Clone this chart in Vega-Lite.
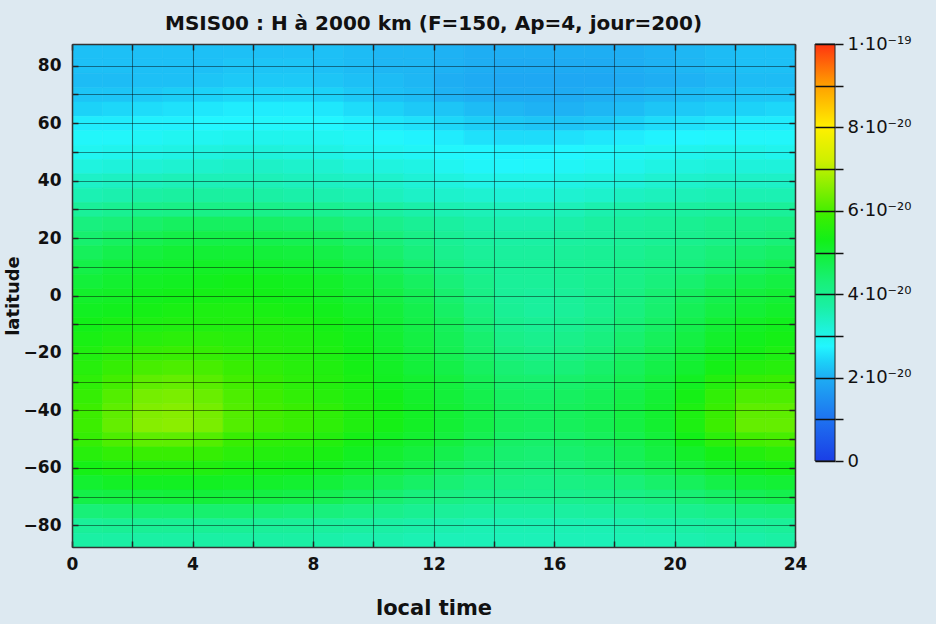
{
"$schema": "https://vega.github.io/schema/vega-lite/v6.json",
"background": "#dde9f1",
"padding": {"left": 4, "top": 14, "right": 24, "bottom": 6},
"config": {"view": {"stroke": null}, "font": "DejaVu Sans", "axis": {"labelFont": "DejaVu Sans", "titleFont": "DejaVu Sans", "labelColor": "#111", "titleColor": "#111"}},
"datasets": {"grid": [
{"lt":0,"lat":82.5,"v":2.2},{"lt":1,"lat":82.5,"v":2.2},{"lt":2,"lat":82.5,"v":2.2},{"lt":3,"lat":82.5,"v":2.2},{"lt":4,"lat":82.5,"v":2.2},{"lt":5,"lat":82.5,"v":2.2},{"lt":6,"lat":82.5,"v":2.2},{"lt":7,"lat":82.5,"v":2.2},{"lt":8,"lat":82.5,"v":2.2},{"lt":9,"lat":82.5,"v":2.15},{"lt":10,"lat":82.5,"v":2.1},{"lt":11,"lat":82.5,"v":2.1},{"lt":12,"lat":82.5,"v":2.05},{"lt":13,"lat":82.5,"v":2.0},{"lt":14,"lat":82.5,"v":2.0},{"lt":15,"lat":82.5,"v":2.0},{"lt":16,"lat":82.5,"v":2.0},{"lt":17,"lat":82.5,"v":2.0},{"lt":18,"lat":82.5,"v":2.0},{"lt":19,"lat":82.5,"v":2.05},{"lt":20,"lat":82.5,"v":2.1},{"lt":21,"lat":82.5,"v":2.15},{"lt":22,"lat":82.5,"v":2.2},{"lt":23,"lat":82.5,"v":2.2},
{"lt":0,"lat":77.5,"v":2.2},{"lt":1,"lat":77.5,"v":2.2},{"lt":2,"lat":77.5,"v":2.2},{"lt":3,"lat":77.5,"v":2.2},{"lt":4,"lat":77.5,"v":2.2},{"lt":5,"lat":77.5,"v":2.25},{"lt":6,"lat":77.5,"v":2.25},{"lt":7,"lat":77.5,"v":2.25},{"lt":8,"lat":77.5,"v":2.2},{"lt":9,"lat":77.5,"v":2.15},{"lt":10,"lat":77.5,"v":2.1},{"lt":11,"lat":77.5,"v":2.1},{"lt":12,"lat":77.5,"v":2.05},{"lt":13,"lat":77.5,"v":2.0},{"lt":14,"lat":77.5,"v":1.95},{"lt":15,"lat":77.5,"v":1.95},{"lt":16,"lat":77.5,"v":1.95},{"lt":17,"lat":77.5,"v":1.95},{"lt":18,"lat":77.5,"v":2.0},{"lt":19,"lat":77.5,"v":2.05},{"lt":20,"lat":77.5,"v":2.1},{"lt":21,"lat":77.5,"v":2.15},{"lt":22,"lat":77.5,"v":2.2},{"lt":23,"lat":77.5,"v":2.2},
{"lt":0,"lat":72.5,"v":2.15},{"lt":1,"lat":72.5,"v":2.15},{"lt":2,"lat":72.5,"v":2.2},{"lt":3,"lat":72.5,"v":2.2},{"lt":4,"lat":72.5,"v":2.25},{"lt":5,"lat":72.5,"v":2.3},{"lt":6,"lat":72.5,"v":2.3},{"lt":7,"lat":72.5,"v":2.3},{"lt":8,"lat":72.5,"v":2.25},{"lt":9,"lat":72.5,"v":2.2},{"lt":10,"lat":72.5,"v":2.15},{"lt":11,"lat":72.5,"v":2.1},{"lt":12,"lat":72.5,"v":2.0},{"lt":13,"lat":72.5,"v":1.95},{"lt":14,"lat":72.5,"v":1.9},{"lt":15,"lat":72.5,"v":1.9},{"lt":16,"lat":72.5,"v":1.9},{"lt":17,"lat":72.5,"v":1.9},{"lt":18,"lat":72.5,"v":1.95},{"lt":19,"lat":72.5,"v":2.0},{"lt":20,"lat":72.5,"v":2.05},{"lt":21,"lat":72.5,"v":2.1},{"lt":22,"lat":72.5,"v":2.15},{"lt":23,"lat":72.5,"v":2.15},
{"lt":0,"lat":67.5,"v":2.25},{"lt":1,"lat":67.5,"v":2.25},{"lt":2,"lat":67.5,"v":2.3},{"lt":3,"lat":67.5,"v":2.35},{"lt":4,"lat":67.5,"v":2.4},{"lt":5,"lat":67.5,"v":2.45},{"lt":6,"lat":67.5,"v":2.45},{"lt":7,"lat":67.5,"v":2.45},{"lt":8,"lat":67.5,"v":2.4},{"lt":9,"lat":67.5,"v":2.3},{"lt":10,"lat":67.5,"v":2.2},{"lt":11,"lat":67.5,"v":2.15},{"lt":12,"lat":67.5,"v":2.05},{"lt":13,"lat":67.5,"v":2.0},{"lt":14,"lat":67.5,"v":1.95},{"lt":15,"lat":67.5,"v":1.95},{"lt":16,"lat":67.5,"v":1.95},{"lt":17,"lat":67.5,"v":2.0},{"lt":18,"lat":67.5,"v":2.05},{"lt":19,"lat":67.5,"v":2.1},{"lt":20,"lat":67.5,"v":2.15},{"lt":21,"lat":67.5,"v":2.2},{"lt":22,"lat":67.5,"v":2.25},{"lt":23,"lat":67.5,"v":2.25},
{"lt":0,"lat":62.5,"v":2.4},{"lt":1,"lat":62.5,"v":2.45},{"lt":2,"lat":62.5,"v":2.5},{"lt":3,"lat":62.5,"v":2.55},{"lt":4,"lat":62.5,"v":2.6},{"lt":5,"lat":62.5,"v":2.65},{"lt":6,"lat":62.5,"v":2.65},{"lt":7,"lat":62.5,"v":2.65},{"lt":8,"lat":62.5,"v":2.6},{"lt":9,"lat":62.5,"v":2.5},{"lt":10,"lat":62.5,"v":2.4},{"lt":11,"lat":62.5,"v":2.3},{"lt":12,"lat":62.5,"v":2.25},{"lt":13,"lat":62.5,"v":2.15},{"lt":14,"lat":62.5,"v":2.1},{"lt":15,"lat":62.5,"v":2.05},{"lt":16,"lat":62.5,"v":2.05},{"lt":17,"lat":62.5,"v":2.1},{"lt":18,"lat":62.5,"v":2.15},{"lt":19,"lat":62.5,"v":2.25},{"lt":20,"lat":62.5,"v":2.3},{"lt":21,"lat":62.5,"v":2.35},{"lt":22,"lat":62.5,"v":2.4},{"lt":23,"lat":62.5,"v":2.45},
{"lt":0,"lat":57.5,"v":2.65},{"lt":1,"lat":57.5,"v":2.65},{"lt":2,"lat":57.5,"v":2.7},{"lt":3,"lat":57.5,"v":2.7},{"lt":4,"lat":57.5,"v":2.75},{"lt":5,"lat":57.5,"v":2.75},{"lt":6,"lat":57.5,"v":2.78},{"lt":7,"lat":57.5,"v":2.78},{"lt":8,"lat":57.5,"v":2.75},{"lt":9,"lat":57.5,"v":2.68},{"lt":10,"lat":57.5,"v":2.6},{"lt":11,"lat":57.5,"v":2.55},{"lt":12,"lat":57.5,"v":2.45},{"lt":13,"lat":57.5,"v":2.35},{"lt":14,"lat":57.5,"v":2.3},{"lt":15,"lat":57.5,"v":2.25},{"lt":16,"lat":57.5,"v":2.25},{"lt":17,"lat":57.5,"v":2.3},{"lt":18,"lat":57.5,"v":2.4},{"lt":19,"lat":57.5,"v":2.5},{"lt":20,"lat":57.5,"v":2.55},{"lt":21,"lat":57.5,"v":2.6},{"lt":22,"lat":57.5,"v":2.65},{"lt":23,"lat":57.5,"v":2.65},
{"lt":0,"lat":52.5,"v":2.8},{"lt":1,"lat":52.5,"v":2.8},{"lt":2,"lat":52.5,"v":2.85},{"lt":3,"lat":52.5,"v":2.9},{"lt":4,"lat":52.5,"v":2.9},{"lt":5,"lat":52.5,"v":2.95},{"lt":6,"lat":52.5,"v":2.95},{"lt":7,"lat":52.5,"v":2.95},{"lt":8,"lat":52.5,"v":2.9},{"lt":9,"lat":52.5,"v":2.85},{"lt":10,"lat":52.5,"v":2.78},{"lt":11,"lat":52.5,"v":2.72},{"lt":12,"lat":52.5,"v":2.65},{"lt":13,"lat":52.5,"v":2.55},{"lt":14,"lat":52.5,"v":2.5},{"lt":15,"lat":52.5,"v":2.5},{"lt":16,"lat":52.5,"v":2.55},{"lt":17,"lat":52.5,"v":2.6},{"lt":18,"lat":52.5,"v":2.65},{"lt":19,"lat":52.5,"v":2.72},{"lt":20,"lat":52.5,"v":2.75},{"lt":21,"lat":52.5,"v":2.78},{"lt":22,"lat":52.5,"v":2.8},{"lt":23,"lat":52.5,"v":2.8},
{"lt":0,"lat":47.5,"v":2.9},{"lt":1,"lat":47.5,"v":2.95},{"lt":2,"lat":47.5,"v":3.0},{"lt":3,"lat":47.5,"v":3.05},{"lt":4,"lat":47.5,"v":3.1},{"lt":5,"lat":47.5,"v":3.15},{"lt":6,"lat":47.5,"v":3.15},{"lt":7,"lat":47.5,"v":3.1},{"lt":8,"lat":47.5,"v":3.05},{"lt":9,"lat":47.5,"v":2.95},{"lt":10,"lat":47.5,"v":2.9},{"lt":11,"lat":47.5,"v":2.85},{"lt":12,"lat":47.5,"v":2.78},{"lt":13,"lat":47.5,"v":2.75},{"lt":14,"lat":47.5,"v":2.72},{"lt":15,"lat":47.5,"v":2.72},{"lt":16,"lat":47.5,"v":2.75},{"lt":17,"lat":47.5,"v":2.8},{"lt":18,"lat":47.5,"v":2.85},{"lt":19,"lat":47.5,"v":2.9},{"lt":20,"lat":47.5,"v":2.95},{"lt":21,"lat":47.5,"v":3.0},{"lt":22,"lat":47.5,"v":3.0},{"lt":23,"lat":47.5,"v":2.95},
{"lt":0,"lat":42.5,"v":3.1},{"lt":1,"lat":42.5,"v":3.15},{"lt":2,"lat":42.5,"v":3.2},{"lt":3,"lat":42.5,"v":3.25},{"lt":4,"lat":42.5,"v":3.3},{"lt":5,"lat":42.5,"v":3.35},{"lt":6,"lat":42.5,"v":3.35},{"lt":7,"lat":42.5,"v":3.3},{"lt":8,"lat":42.5,"v":3.25},{"lt":9,"lat":42.5,"v":3.15},{"lt":10,"lat":42.5,"v":3.1},{"lt":11,"lat":42.5,"v":3.05},{"lt":12,"lat":42.5,"v":2.9},{"lt":13,"lat":42.5,"v":2.82},{"lt":14,"lat":42.5,"v":2.78},{"lt":15,"lat":42.5,"v":2.8},{"lt":16,"lat":42.5,"v":2.85},{"lt":17,"lat":42.5,"v":2.9},{"lt":18,"lat":42.5,"v":2.95},{"lt":19,"lat":42.5,"v":3.05},{"lt":20,"lat":42.5,"v":3.1},{"lt":21,"lat":42.5,"v":3.15},{"lt":22,"lat":42.5,"v":3.15},{"lt":23,"lat":42.5,"v":3.15},
{"lt":0,"lat":37.5,"v":3.35},{"lt":1,"lat":37.5,"v":3.4},{"lt":2,"lat":37.5,"v":3.45},{"lt":3,"lat":37.5,"v":3.5},{"lt":4,"lat":37.5,"v":3.5},{"lt":5,"lat":37.5,"v":3.5},{"lt":6,"lat":37.5,"v":3.5},{"lt":7,"lat":37.5,"v":3.45},{"lt":8,"lat":37.5,"v":3.4},{"lt":9,"lat":37.5,"v":3.35},{"lt":10,"lat":37.5,"v":3.3},{"lt":11,"lat":37.5,"v":3.2},{"lt":12,"lat":37.5,"v":3.1},{"lt":13,"lat":37.5,"v":3.0},{"lt":14,"lat":37.5,"v":3.0},{"lt":15,"lat":37.5,"v":3.0},{"lt":16,"lat":37.5,"v":3.05},{"lt":17,"lat":37.5,"v":3.1},{"lt":18,"lat":37.5,"v":3.15},{"lt":19,"lat":37.5,"v":3.25},{"lt":20,"lat":37.5,"v":3.3},{"lt":21,"lat":37.5,"v":3.35},{"lt":22,"lat":37.5,"v":3.35},{"lt":23,"lat":37.5,"v":3.35},
{"lt":0,"lat":32.5,"v":3.55},{"lt":1,"lat":32.5,"v":3.6},{"lt":2,"lat":32.5,"v":3.7},{"lt":3,"lat":32.5,"v":3.75},{"lt":4,"lat":32.5,"v":3.75},{"lt":5,"lat":32.5,"v":3.75},{"lt":6,"lat":32.5,"v":3.7},{"lt":7,"lat":32.5,"v":3.65},{"lt":8,"lat":32.5,"v":3.6},{"lt":9,"lat":32.5,"v":3.55},{"lt":10,"lat":32.5,"v":3.45},{"lt":11,"lat":32.5,"v":3.35},{"lt":12,"lat":32.5,"v":3.3},{"lt":13,"lat":32.5,"v":3.25},{"lt":14,"lat":32.5,"v":3.2},{"lt":15,"lat":32.5,"v":3.2},{"lt":16,"lat":32.5,"v":3.25},{"lt":17,"lat":32.5,"v":3.3},{"lt":18,"lat":32.5,"v":3.4},{"lt":19,"lat":32.5,"v":3.45},{"lt":20,"lat":32.5,"v":3.5},{"lt":21,"lat":32.5,"v":3.55},{"lt":22,"lat":32.5,"v":3.55},{"lt":23,"lat":32.5,"v":3.55},
{"lt":0,"lat":27.5,"v":3.85},{"lt":1,"lat":27.5,"v":3.95},{"lt":2,"lat":27.5,"v":4.05},{"lt":3,"lat":27.5,"v":4.1},{"lt":4,"lat":27.5,"v":4.1},{"lt":5,"lat":27.5,"v":4.1},{"lt":6,"lat":27.5,"v":4.05},{"lt":7,"lat":27.5,"v":4.0},{"lt":8,"lat":27.5,"v":3.95},{"lt":9,"lat":27.5,"v":3.85},{"lt":10,"lat":27.5,"v":3.75},{"lt":11,"lat":27.5,"v":3.65},{"lt":12,"lat":27.5,"v":3.55},{"lt":13,"lat":27.5,"v":3.5},{"lt":14,"lat":27.5,"v":3.45},{"lt":15,"lat":27.5,"v":3.45},{"lt":16,"lat":27.5,"v":3.5},{"lt":17,"lat":27.5,"v":3.6},{"lt":18,"lat":27.5,"v":3.65},{"lt":19,"lat":27.5,"v":3.7},{"lt":20,"lat":27.5,"v":3.75},{"lt":21,"lat":27.5,"v":3.8},{"lt":22,"lat":27.5,"v":3.85},{"lt":23,"lat":27.5,"v":3.85},
{"lt":0,"lat":22.5,"v":4.2},{"lt":1,"lat":22.5,"v":4.3},{"lt":2,"lat":22.5,"v":4.45},{"lt":3,"lat":22.5,"v":4.55},{"lt":4,"lat":22.5,"v":4.55},{"lt":5,"lat":22.5,"v":4.55},{"lt":6,"lat":22.5,"v":4.5},{"lt":7,"lat":22.5,"v":4.45},{"lt":8,"lat":22.5,"v":4.35},{"lt":9,"lat":22.5,"v":4.2},{"lt":10,"lat":22.5,"v":4.05},{"lt":11,"lat":22.5,"v":3.9},{"lt":12,"lat":22.5,"v":3.75},{"lt":13,"lat":22.5,"v":3.65},{"lt":14,"lat":22.5,"v":3.6},{"lt":15,"lat":22.5,"v":3.6},{"lt":16,"lat":22.5,"v":3.65},{"lt":17,"lat":22.5,"v":3.75},{"lt":18,"lat":22.5,"v":3.8},{"lt":19,"lat":22.5,"v":3.85},{"lt":20,"lat":22.5,"v":3.95},{"lt":21,"lat":22.5,"v":4.05},{"lt":22,"lat":22.5,"v":4.1},{"lt":23,"lat":22.5,"v":4.15},
{"lt":0,"lat":17.5,"v":4.4},{"lt":1,"lat":17.5,"v":4.55},{"lt":2,"lat":17.5,"v":4.7},{"lt":3,"lat":17.5,"v":4.8},{"lt":4,"lat":17.5,"v":4.8},{"lt":5,"lat":17.5,"v":4.8},{"lt":6,"lat":17.5,"v":4.75},{"lt":7,"lat":17.5,"v":4.7},{"lt":8,"lat":17.5,"v":4.6},{"lt":9,"lat":17.5,"v":4.45},{"lt":10,"lat":17.5,"v":4.3},{"lt":11,"lat":17.5,"v":4.1},{"lt":12,"lat":17.5,"v":3.9},{"lt":13,"lat":17.5,"v":3.75},{"lt":14,"lat":17.5,"v":3.7},{"lt":15,"lat":17.5,"v":3.7},{"lt":16,"lat":17.5,"v":3.75},{"lt":17,"lat":17.5,"v":3.8},{"lt":18,"lat":17.5,"v":3.85},{"lt":19,"lat":17.5,"v":3.9},{"lt":20,"lat":17.5,"v":4.0},{"lt":21,"lat":17.5,"v":4.1},{"lt":22,"lat":17.5,"v":4.2},{"lt":23,"lat":17.5,"v":4.3},
{"lt":0,"lat":12.5,"v":4.6},{"lt":1,"lat":12.5,"v":4.75},{"lt":2,"lat":12.5,"v":4.9},{"lt":3,"lat":12.5,"v":5.0},{"lt":4,"lat":12.5,"v":5.0},{"lt":5,"lat":12.5,"v":5.0},{"lt":6,"lat":12.5,"v":4.95},{"lt":7,"lat":12.5,"v":4.9},{"lt":8,"lat":12.5,"v":4.8},{"lt":9,"lat":12.5,"v":4.65},{"lt":10,"lat":12.5,"v":4.45},{"lt":11,"lat":12.5,"v":4.25},{"lt":12,"lat":12.5,"v":4.0},{"lt":13,"lat":12.5,"v":3.85},{"lt":14,"lat":12.5,"v":3.8},{"lt":15,"lat":12.5,"v":3.8},{"lt":16,"lat":12.5,"v":3.85},{"lt":17,"lat":12.5,"v":3.9},{"lt":18,"lat":12.5,"v":3.95},{"lt":19,"lat":12.5,"v":4.05},{"lt":20,"lat":12.5,"v":4.15},{"lt":21,"lat":12.5,"v":4.3},{"lt":22,"lat":12.5,"v":4.4},{"lt":23,"lat":12.5,"v":4.5},
{"lt":0,"lat":7.5,"v":4.8},{"lt":1,"lat":7.5,"v":4.95},{"lt":2,"lat":7.5,"v":5.05},{"lt":3,"lat":7.5,"v":5.1},{"lt":4,"lat":7.5,"v":5.15},{"lt":5,"lat":7.5,"v":5.15},{"lt":6,"lat":7.5,"v":5.1},{"lt":7,"lat":7.5,"v":5.05},{"lt":8,"lat":7.5,"v":4.95},{"lt":9,"lat":7.5,"v":4.8},{"lt":10,"lat":7.5,"v":4.6},{"lt":11,"lat":7.5,"v":4.4},{"lt":12,"lat":7.5,"v":4.15},{"lt":13,"lat":7.5,"v":3.95},{"lt":14,"lat":7.5,"v":3.85},{"lt":15,"lat":7.5,"v":3.85},{"lt":16,"lat":7.5,"v":3.9},{"lt":17,"lat":7.5,"v":3.95},{"lt":18,"lat":7.5,"v":4.05},{"lt":19,"lat":7.5,"v":4.15},{"lt":20,"lat":7.5,"v":4.25},{"lt":21,"lat":7.5,"v":4.4},{"lt":22,"lat":7.5,"v":4.55},{"lt":23,"lat":7.5,"v":4.7},
{"lt":0,"lat":2.5,"v":4.95},{"lt":1,"lat":2.5,"v":5.05},{"lt":2,"lat":2.5,"v":5.15},{"lt":3,"lat":2.5,"v":5.2},{"lt":4,"lat":2.5,"v":5.25},{"lt":5,"lat":2.5,"v":5.3},{"lt":6,"lat":2.5,"v":5.25},{"lt":7,"lat":2.5,"v":5.2},{"lt":8,"lat":2.5,"v":5.1},{"lt":9,"lat":2.5,"v":4.95},{"lt":10,"lat":2.5,"v":4.75},{"lt":11,"lat":2.5,"v":4.55},{"lt":12,"lat":2.5,"v":4.3},{"lt":13,"lat":2.5,"v":4.05},{"lt":14,"lat":2.5,"v":3.85},{"lt":15,"lat":2.5,"v":3.85},{"lt":16,"lat":2.5,"v":3.9},{"lt":17,"lat":2.5,"v":4.0},{"lt":18,"lat":2.5,"v":4.1},{"lt":19,"lat":2.5,"v":4.25},{"lt":20,"lat":2.5,"v":4.4},{"lt":21,"lat":2.5,"v":4.6},{"lt":22,"lat":2.5,"v":4.75},{"lt":23,"lat":2.5,"v":4.85},
{"lt":0,"lat":-2.5,"v":5.1},{"lt":1,"lat":-2.5,"v":5.15},{"lt":2,"lat":-2.5,"v":5.25},{"lt":3,"lat":-2.5,"v":5.3},{"lt":4,"lat":-2.5,"v":5.35},{"lt":5,"lat":-2.5,"v":5.35},{"lt":6,"lat":-2.5,"v":5.3},{"lt":7,"lat":-2.5,"v":5.25},{"lt":8,"lat":-2.5,"v":5.15},{"lt":9,"lat":-2.5,"v":5.0},{"lt":10,"lat":-2.5,"v":4.85},{"lt":11,"lat":-2.5,"v":4.65},{"lt":12,"lat":-2.5,"v":4.4},{"lt":13,"lat":-2.5,"v":4.1},{"lt":14,"lat":-2.5,"v":3.85},{"lt":15,"lat":-2.5,"v":3.8},{"lt":16,"lat":-2.5,"v":3.85},{"lt":17,"lat":-2.5,"v":4.0},{"lt":18,"lat":-2.5,"v":4.15},{"lt":19,"lat":-2.5,"v":4.35},{"lt":20,"lat":-2.5,"v":4.55},{"lt":21,"lat":-2.5,"v":4.75},{"lt":22,"lat":-2.5,"v":4.9},{"lt":23,"lat":-2.5,"v":5.0},
{"lt":0,"lat":-7.5,"v":5.2},{"lt":1,"lat":-7.5,"v":5.25},{"lt":2,"lat":-7.5,"v":5.35},{"lt":3,"lat":-7.5,"v":5.4},{"lt":4,"lat":-7.5,"v":5.45},{"lt":5,"lat":-7.5,"v":5.45},{"lt":6,"lat":-7.5,"v":5.4},{"lt":7,"lat":-7.5,"v":5.35},{"lt":8,"lat":-7.5,"v":5.25},{"lt":9,"lat":-7.5,"v":5.1},{"lt":10,"lat":-7.5,"v":4.95},{"lt":11,"lat":-7.5,"v":4.75},{"lt":12,"lat":-7.5,"v":4.5},{"lt":13,"lat":-7.5,"v":4.2},{"lt":14,"lat":-7.5,"v":3.9},{"lt":15,"lat":-7.5,"v":3.8},{"lt":16,"lat":-7.5,"v":3.85},{"lt":17,"lat":-7.5,"v":4.0},{"lt":18,"lat":-7.5,"v":4.2},{"lt":19,"lat":-7.5,"v":4.4},{"lt":20,"lat":-7.5,"v":4.65},{"lt":21,"lat":-7.5,"v":4.85},{"lt":22,"lat":-7.5,"v":5.0},{"lt":23,"lat":-7.5,"v":5.1},
{"lt":0,"lat":-12.5,"v":5.3},{"lt":1,"lat":-12.5,"v":5.4},{"lt":2,"lat":-12.5,"v":5.45},{"lt":3,"lat":-12.5,"v":5.5},{"lt":4,"lat":-12.5,"v":5.5},{"lt":5,"lat":-12.5,"v":5.5},{"lt":6,"lat":-12.5,"v":5.5},{"lt":7,"lat":-12.5,"v":5.45},{"lt":8,"lat":-12.5,"v":5.35},{"lt":9,"lat":-12.5,"v":5.2},{"lt":10,"lat":-12.5,"v":5.0},{"lt":11,"lat":-12.5,"v":4.8},{"lt":12,"lat":-12.5,"v":4.6},{"lt":13,"lat":-12.5,"v":4.3},{"lt":14,"lat":-12.5,"v":4.0},{"lt":15,"lat":-12.5,"v":3.9},{"lt":16,"lat":-12.5,"v":3.95},{"lt":17,"lat":-12.5,"v":4.1},{"lt":18,"lat":-12.5,"v":4.3},{"lt":19,"lat":-12.5,"v":4.5},{"lt":20,"lat":-12.5,"v":4.75},{"lt":21,"lat":-12.5,"v":5.0},{"lt":22,"lat":-12.5,"v":5.15},{"lt":23,"lat":-12.5,"v":5.25},
{"lt":0,"lat":-17.5,"v":5.4},{"lt":1,"lat":-17.5,"v":5.5},{"lt":2,"lat":-17.5,"v":5.6},{"lt":3,"lat":-17.5,"v":5.65},{"lt":4,"lat":-17.5,"v":5.65},{"lt":5,"lat":-17.5,"v":5.6},{"lt":6,"lat":-17.5,"v":5.55},{"lt":7,"lat":-17.5,"v":5.5},{"lt":8,"lat":-17.5,"v":5.4},{"lt":9,"lat":-17.5,"v":5.25},{"lt":10,"lat":-17.5,"v":5.05},{"lt":11,"lat":-17.5,"v":4.85},{"lt":12,"lat":-17.5,"v":4.65},{"lt":13,"lat":-17.5,"v":4.4},{"lt":14,"lat":-17.5,"v":4.1},{"lt":15,"lat":-17.5,"v":4.0},{"lt":16,"lat":-17.5,"v":4.05},{"lt":17,"lat":-17.5,"v":4.2},{"lt":18,"lat":-17.5,"v":4.4},{"lt":19,"lat":-17.5,"v":4.6},{"lt":20,"lat":-17.5,"v":4.85},{"lt":21,"lat":-17.5,"v":5.1},{"lt":22,"lat":-17.5,"v":5.25},{"lt":23,"lat":-17.5,"v":5.35},
{"lt":0,"lat":-22.5,"v":5.5},{"lt":1,"lat":-22.5,"v":5.65},{"lt":2,"lat":-22.5,"v":5.8},{"lt":3,"lat":-22.5,"v":5.85},{"lt":4,"lat":-22.5,"v":5.8},{"lt":5,"lat":-22.5,"v":5.7},{"lt":6,"lat":-22.5,"v":5.6},{"lt":7,"lat":-22.5,"v":5.55},{"lt":8,"lat":-22.5,"v":5.45},{"lt":9,"lat":-22.5,"v":5.3},{"lt":10,"lat":-22.5,"v":5.1},{"lt":11,"lat":-22.5,"v":4.9},{"lt":12,"lat":-22.5,"v":4.7},{"lt":13,"lat":-22.5,"v":4.45},{"lt":14,"lat":-22.5,"v":4.2},{"lt":15,"lat":-22.5,"v":4.1},{"lt":16,"lat":-22.5,"v":4.15},{"lt":17,"lat":-22.5,"v":4.3},{"lt":18,"lat":-22.5,"v":4.5},{"lt":19,"lat":-22.5,"v":4.7},{"lt":20,"lat":-22.5,"v":4.95},{"lt":21,"lat":-22.5,"v":5.2},{"lt":22,"lat":-22.5,"v":5.35},{"lt":23,"lat":-22.5,"v":5.45},
{"lt":0,"lat":-27.5,"v":5.6},{"lt":1,"lat":-27.5,"v":5.8},{"lt":2,"lat":-27.5,"v":6.0},{"lt":3,"lat":-27.5,"v":6.05},{"lt":4,"lat":-27.5,"v":6.0},{"lt":5,"lat":-27.5,"v":5.85},{"lt":6,"lat":-27.5,"v":5.7},{"lt":7,"lat":-27.5,"v":5.6},{"lt":8,"lat":-27.5,"v":5.5},{"lt":9,"lat":-27.5,"v":5.35},{"lt":10,"lat":-27.5,"v":5.15},{"lt":11,"lat":-27.5,"v":4.95},{"lt":12,"lat":-27.5,"v":4.8},{"lt":13,"lat":-27.5,"v":4.55},{"lt":14,"lat":-27.5,"v":4.35},{"lt":15,"lat":-27.5,"v":4.25},{"lt":16,"lat":-27.5,"v":4.3},{"lt":17,"lat":-27.5,"v":4.45},{"lt":18,"lat":-27.5,"v":4.6},{"lt":19,"lat":-27.5,"v":4.8},{"lt":20,"lat":-27.5,"v":5.05},{"lt":21,"lat":-27.5,"v":5.35},{"lt":22,"lat":-27.5,"v":5.55},{"lt":23,"lat":-27.5,"v":5.6},
{"lt":0,"lat":-32.5,"v":5.7},{"lt":1,"lat":-32.5,"v":5.95},{"lt":2,"lat":-32.5,"v":6.2},{"lt":3,"lat":-32.5,"v":6.25},{"lt":4,"lat":-32.5,"v":6.15},{"lt":5,"lat":-32.5,"v":5.95},{"lt":6,"lat":-32.5,"v":5.8},{"lt":7,"lat":-32.5,"v":5.65},{"lt":8,"lat":-32.5,"v":5.55},{"lt":9,"lat":-32.5,"v":5.4},{"lt":10,"lat":-32.5,"v":5.2},{"lt":11,"lat":-32.5,"v":5.05},{"lt":12,"lat":-32.5,"v":4.9},{"lt":13,"lat":-32.5,"v":4.65},{"lt":14,"lat":-32.5,"v":4.45},{"lt":15,"lat":-32.5,"v":4.4},{"lt":16,"lat":-32.5,"v":4.45},{"lt":17,"lat":-32.5,"v":4.55},{"lt":18,"lat":-32.5,"v":4.7},{"lt":19,"lat":-32.5,"v":4.9},{"lt":20,"lat":-32.5,"v":5.2},{"lt":21,"lat":-32.5,"v":5.55},{"lt":22,"lat":-32.5,"v":5.8},{"lt":23,"lat":-32.5,"v":5.85},
{"lt":0,"lat":-37.5,"v":5.8},{"lt":1,"lat":-37.5,"v":6.1},{"lt":2,"lat":-37.5,"v":6.4},{"lt":3,"lat":-37.5,"v":6.45},{"lt":4,"lat":-37.5,"v":6.3},{"lt":5,"lat":-37.5,"v":6.05},{"lt":6,"lat":-37.5,"v":5.9},{"lt":7,"lat":-37.5,"v":5.75},{"lt":8,"lat":-37.5,"v":5.6},{"lt":9,"lat":-37.5,"v":5.45},{"lt":10,"lat":-37.5,"v":5.3},{"lt":11,"lat":-37.5,"v":5.1},{"lt":12,"lat":-37.5,"v":4.95},{"lt":13,"lat":-37.5,"v":4.75},{"lt":14,"lat":-37.5,"v":4.55},{"lt":15,"lat":-37.5,"v":4.5},{"lt":16,"lat":-37.5,"v":4.55},{"lt":17,"lat":-37.5,"v":4.65},{"lt":18,"lat":-37.5,"v":4.8},{"lt":19,"lat":-37.5,"v":5.0},{"lt":20,"lat":-37.5,"v":5.35},{"lt":21,"lat":-37.5,"v":5.75},{"lt":22,"lat":-37.5,"v":6.05},{"lt":23,"lat":-37.5,"v":6.05},
{"lt":0,"lat":-42.5,"v":5.9},{"lt":1,"lat":-42.5,"v":6.2},{"lt":2,"lat":-42.5,"v":6.5},{"lt":3,"lat":-42.5,"v":6.55},{"lt":4,"lat":-42.5,"v":6.4},{"lt":5,"lat":-42.5,"v":6.1},{"lt":6,"lat":-42.5,"v":5.95},{"lt":7,"lat":-42.5,"v":5.85},{"lt":8,"lat":-42.5,"v":5.7},{"lt":9,"lat":-42.5,"v":5.5},{"lt":10,"lat":-42.5,"v":5.35},{"lt":11,"lat":-42.5,"v":5.15},{"lt":12,"lat":-42.5,"v":5.0},{"lt":13,"lat":-42.5,"v":4.8},{"lt":14,"lat":-42.5,"v":4.6},{"lt":15,"lat":-42.5,"v":4.55},{"lt":16,"lat":-42.5,"v":4.6},{"lt":17,"lat":-42.5,"v":4.7},{"lt":18,"lat":-42.5,"v":4.85},{"lt":19,"lat":-42.5,"v":5.05},{"lt":20,"lat":-42.5,"v":5.45},{"lt":21,"lat":-42.5,"v":5.85},{"lt":22,"lat":-42.5,"v":6.2},{"lt":23,"lat":-42.5,"v":6.2},
{"lt":0,"lat":-47.5,"v":5.9},{"lt":1,"lat":-47.5,"v":6.25},{"lt":2,"lat":-47.5,"v":6.55},{"lt":3,"lat":-47.5,"v":6.6},{"lt":4,"lat":-47.5,"v":6.45},{"lt":5,"lat":-47.5,"v":6.1},{"lt":6,"lat":-47.5,"v":5.95},{"lt":7,"lat":-47.5,"v":5.85},{"lt":8,"lat":-47.5,"v":5.7},{"lt":9,"lat":-47.5,"v":5.5},{"lt":10,"lat":-47.5,"v":5.35},{"lt":11,"lat":-47.5,"v":5.15},{"lt":12,"lat":-47.5,"v":5.0},{"lt":13,"lat":-47.5,"v":4.8},{"lt":14,"lat":-47.5,"v":4.6},{"lt":15,"lat":-47.5,"v":4.55},{"lt":16,"lat":-47.5,"v":4.6},{"lt":17,"lat":-47.5,"v":4.7},{"lt":18,"lat":-47.5,"v":4.85},{"lt":19,"lat":-47.5,"v":5.05},{"lt":20,"lat":-47.5,"v":5.45},{"lt":21,"lat":-47.5,"v":5.9},{"lt":22,"lat":-47.5,"v":6.25},{"lt":23,"lat":-47.5,"v":6.25},
{"lt":0,"lat":-52.5,"v":5.8},{"lt":1,"lat":-52.5,"v":6.05},{"lt":2,"lat":-52.5,"v":6.2},{"lt":3,"lat":-52.5,"v":6.2},{"lt":4,"lat":-52.5,"v":6.1},{"lt":5,"lat":-52.5,"v":5.85},{"lt":6,"lat":-52.5,"v":5.7},{"lt":7,"lat":-52.5,"v":5.65},{"lt":8,"lat":-52.5,"v":5.55},{"lt":9,"lat":-52.5,"v":5.35},{"lt":10,"lat":-52.5,"v":5.2},{"lt":11,"lat":-52.5,"v":5.05},{"lt":12,"lat":-52.5,"v":4.9},{"lt":13,"lat":-52.5,"v":4.7},{"lt":14,"lat":-52.5,"v":4.5},{"lt":15,"lat":-52.5,"v":4.45},{"lt":16,"lat":-52.5,"v":4.5},{"lt":17,"lat":-52.5,"v":4.6},{"lt":18,"lat":-52.5,"v":4.75},{"lt":19,"lat":-52.5,"v":4.95},{"lt":20,"lat":-52.5,"v":5.3},{"lt":21,"lat":-52.5,"v":5.65},{"lt":22,"lat":-52.5,"v":5.95},{"lt":23,"lat":-52.5,"v":6.0},
{"lt":0,"lat":-57.5,"v":5.6},{"lt":1,"lat":-57.5,"v":5.75},{"lt":2,"lat":-57.5,"v":5.85},{"lt":3,"lat":-57.5,"v":5.85},{"lt":4,"lat":-57.5,"v":5.8},{"lt":5,"lat":-57.5,"v":5.65},{"lt":6,"lat":-57.5,"v":5.55},{"lt":7,"lat":-57.5,"v":5.5},{"lt":8,"lat":-57.5,"v":5.4},{"lt":9,"lat":-57.5,"v":5.2},{"lt":10,"lat":-57.5,"v":5.05},{"lt":11,"lat":-57.5,"v":4.9},{"lt":12,"lat":-57.5,"v":4.75},{"lt":13,"lat":-57.5,"v":4.55},{"lt":14,"lat":-57.5,"v":4.4},{"lt":15,"lat":-57.5,"v":4.35},{"lt":16,"lat":-57.5,"v":4.4},{"lt":17,"lat":-57.5,"v":4.5},{"lt":18,"lat":-57.5,"v":4.65},{"lt":19,"lat":-57.5,"v":4.85},{"lt":20,"lat":-57.5,"v":5.1},{"lt":21,"lat":-57.5,"v":5.35},{"lt":22,"lat":-57.5,"v":5.55},{"lt":23,"lat":-57.5,"v":5.65},
{"lt":0,"lat":-62.5,"v":5.35},{"lt":1,"lat":-62.5,"v":5.45},{"lt":2,"lat":-62.5,"v":5.5},{"lt":3,"lat":-62.5,"v":5.5},{"lt":4,"lat":-62.5,"v":5.5},{"lt":5,"lat":-62.5,"v":5.4},{"lt":6,"lat":-62.5,"v":5.35},{"lt":7,"lat":-62.5,"v":5.3},{"lt":8,"lat":-62.5,"v":5.2},{"lt":9,"lat":-62.5,"v":5.05},{"lt":10,"lat":-62.5,"v":4.9},{"lt":11,"lat":-62.5,"v":4.75},{"lt":12,"lat":-62.5,"v":4.55},{"lt":13,"lat":-62.5,"v":4.4},{"lt":14,"lat":-62.5,"v":4.3},{"lt":15,"lat":-62.5,"v":4.25},{"lt":16,"lat":-62.5,"v":4.3},{"lt":17,"lat":-62.5,"v":4.4},{"lt":18,"lat":-62.5,"v":4.55},{"lt":19,"lat":-62.5,"v":4.7},{"lt":20,"lat":-62.5,"v":4.9},{"lt":21,"lat":-62.5,"v":5.1},{"lt":22,"lat":-62.5,"v":5.25},{"lt":23,"lat":-62.5,"v":5.35},
{"lt":0,"lat":-67.5,"v":5.05},{"lt":1,"lat":-67.5,"v":5.15},{"lt":2,"lat":-67.5,"v":5.2},{"lt":3,"lat":-67.5,"v":5.2},{"lt":4,"lat":-67.5,"v":5.2},{"lt":5,"lat":-67.5,"v":5.15},{"lt":6,"lat":-67.5,"v":5.1},{"lt":7,"lat":-67.5,"v":5.05},{"lt":8,"lat":-67.5,"v":4.95},{"lt":9,"lat":-67.5,"v":4.8},{"lt":10,"lat":-67.5,"v":4.65},{"lt":11,"lat":-67.5,"v":4.5},{"lt":12,"lat":-67.5,"v":4.35},{"lt":13,"lat":-67.5,"v":4.2},{"lt":14,"lat":-67.5,"v":4.15},{"lt":15,"lat":-67.5,"v":4.1},{"lt":16,"lat":-67.5,"v":4.15},{"lt":17,"lat":-67.5,"v":4.2},{"lt":18,"lat":-67.5,"v":4.3},{"lt":19,"lat":-67.5,"v":4.45},{"lt":20,"lat":-67.5,"v":4.6},{"lt":21,"lat":-67.5,"v":4.8},{"lt":22,"lat":-67.5,"v":4.95},{"lt":23,"lat":-67.5,"v":5.0},
{"lt":0,"lat":-72.5,"v":4.8},{"lt":1,"lat":-72.5,"v":4.85},{"lt":2,"lat":-72.5,"v":4.9},{"lt":3,"lat":-72.5,"v":4.95},{"lt":4,"lat":-72.5,"v":4.95},{"lt":5,"lat":-72.5,"v":4.9},{"lt":6,"lat":-72.5,"v":4.85},{"lt":7,"lat":-72.5,"v":4.8},{"lt":8,"lat":-72.5,"v":4.7},{"lt":9,"lat":-72.5,"v":4.55},{"lt":10,"lat":-72.5,"v":4.4},{"lt":11,"lat":-72.5,"v":4.25},{"lt":12,"lat":-72.5,"v":4.15},{"lt":13,"lat":-72.5,"v":4.05},{"lt":14,"lat":-72.5,"v":4.0},{"lt":15,"lat":-72.5,"v":4.0},{"lt":16,"lat":-72.5,"v":4.0},{"lt":17,"lat":-72.5,"v":4.05},{"lt":18,"lat":-72.5,"v":4.1},{"lt":19,"lat":-72.5,"v":4.2},{"lt":20,"lat":-72.5,"v":4.35},{"lt":21,"lat":-72.5,"v":4.5},{"lt":22,"lat":-72.5,"v":4.65},{"lt":23,"lat":-72.5,"v":4.75},
{"lt":0,"lat":-77.5,"v":4.3},{"lt":1,"lat":-77.5,"v":4.35},{"lt":2,"lat":-77.5,"v":4.4},{"lt":3,"lat":-77.5,"v":4.4},{"lt":4,"lat":-77.5,"v":4.4},{"lt":5,"lat":-77.5,"v":4.4},{"lt":6,"lat":-77.5,"v":4.35},{"lt":7,"lat":-77.5,"v":4.3},{"lt":8,"lat":-77.5,"v":4.25},{"lt":9,"lat":-77.5,"v":4.15},{"lt":10,"lat":-77.5,"v":4.05},{"lt":11,"lat":-77.5,"v":3.95},{"lt":12,"lat":-77.5,"v":3.85},{"lt":13,"lat":-77.5,"v":3.8},{"lt":14,"lat":-77.5,"v":3.75},{"lt":15,"lat":-77.5,"v":3.75},{"lt":16,"lat":-77.5,"v":3.75},{"lt":17,"lat":-77.5,"v":3.8},{"lt":18,"lat":-77.5,"v":3.85},{"lt":19,"lat":-77.5,"v":3.9},{"lt":20,"lat":-77.5,"v":4.0},{"lt":21,"lat":-77.5,"v":4.1},{"lt":22,"lat":-77.5,"v":4.2},{"lt":23,"lat":-77.5,"v":4.25},
{"lt":0,"lat":-82.5,"v":3.85},{"lt":1,"lat":-82.5,"v":3.9},{"lt":2,"lat":-82.5,"v":3.9},{"lt":3,"lat":-82.5,"v":3.9},{"lt":4,"lat":-82.5,"v":3.9},{"lt":5,"lat":-82.5,"v":3.9},{"lt":6,"lat":-82.5,"v":3.85},{"lt":7,"lat":-82.5,"v":3.85},{"lt":8,"lat":-82.5,"v":3.8},{"lt":9,"lat":-82.5,"v":3.75},{"lt":10,"lat":-82.5,"v":3.7},{"lt":11,"lat":-82.5,"v":3.65},{"lt":12,"lat":-82.5,"v":3.6},{"lt":13,"lat":-82.5,"v":3.55},{"lt":14,"lat":-82.5,"v":3.55},{"lt":15,"lat":-82.5,"v":3.55},{"lt":16,"lat":-82.5,"v":3.55},{"lt":17,"lat":-82.5,"v":3.55},{"lt":18,"lat":-82.5,"v":3.6},{"lt":19,"lat":-82.5,"v":3.65},{"lt":20,"lat":-82.5,"v":3.7},{"lt":21,"lat":-82.5,"v":3.75},{"lt":22,"lat":-82.5,"v":3.8},{"lt":23,"lat":-82.5,"v":3.85},
{"lt":0,"lat":-87.5,"v":3.7},{"lt":1,"lat":-87.5,"v":3.7},{"lt":2,"lat":-87.5,"v":3.7},{"lt":3,"lat":-87.5,"v":3.7},{"lt":4,"lat":-87.5,"v":3.7},{"lt":5,"lat":-87.5,"v":3.7},{"lt":6,"lat":-87.5,"v":3.7},{"lt":7,"lat":-87.5,"v":3.7},{"lt":8,"lat":-87.5,"v":3.65},{"lt":9,"lat":-87.5,"v":3.6},{"lt":10,"lat":-87.5,"v":3.6},{"lt":11,"lat":-87.5,"v":3.55},{"lt":12,"lat":-87.5,"v":3.5},{"lt":13,"lat":-87.5,"v":3.5},{"lt":14,"lat":-87.5,"v":3.5},{"lt":15,"lat":-87.5,"v":3.5},{"lt":16,"lat":-87.5,"v":3.5},{"lt":17,"lat":-87.5,"v":3.5},{"lt":18,"lat":-87.5,"v":3.55},{"lt":19,"lat":-87.5,"v":3.55},{"lt":20,"lat":-87.5,"v":3.6},{"lt":21,"lat":-87.5,"v":3.65},{"lt":22,"lat":-87.5,"v":3.65},{"lt":23,"lat":-87.5,"v":3.7}
]},
"hconcat": [
{
"width": 723, "height": 503,
"title": {"text": "MSIS00 : H à 2000 km (F=150, Ap=4, jour=200)", "font": "DejaVu Sans", "fontSize": 20, "fontWeight": "bold", "color": "#111", "offset": 9},
"layer": [
{
"data": {"name": "grid"},
"mark": {"type": "rect", "strokeWidth": 0.6},
"encoding": {
"x": {"field": "lt", "type": "quantitative", "bin": {"binned": true, "step": 1}, "scale": {"domain": [0, 24], "nice": false, "zero": false},
"axis": {"orient": "bottom", "values": [0,2,4,6,8,10,12,14,16,18,20,22,24], "labelExpr": "datum.value % 4 == 0 ? '' + datum.value : ''", "title": "local time", "titleFontSize": 21, "titleFontWeight": "bold", "titlePadding": 25, "labelFontSize": 17, "labelFontWeight": "bold", "labelPadding": 15, "labelFlush": false, "labelOverlap": false, "tickSize": -6, "tickWidth": 1.5, "tickColor": "#222", "grid": true, "gridColor": "#000", "gridOpacity": 0.45, "gridWidth": 1, "domainColor": "#333", "domainWidth": 1.5, "zindex": 1}},
"y": {"field": "lat", "type": "quantitative", "bin": {"binned": true, "step": 5}, "scale": {"domain": [-87.5, 87.5], "nice": false, "zero": false},
"axis": {"orient": "left", "values": [-80,-70,-60,-50,-40,-30,-20,-10,0,10,20,30,40,50,60,70,80], "labelExpr": "datum.value % 20 == 0 ? datum.label : ''", "title": "latitude", "titleFontSize": 18, "titleFontWeight": "bold", "titlePadding": 1, "labelFontSize": 17, "labelFontWeight": "bold", "labelPadding": 17, "labelFlush": false, "labelOverlap": false, "tickSize": -6, "tickWidth": 1.5, "tickColor": "#222", "grid": true, "gridColor": "#000", "gridOpacity": 0.45, "gridWidth": 1, "domainColor": "#333", "domainWidth": 1.5, "zindex": 1}},
"color": {"field": "v", "type": "quantitative", "legend": null, "scale": {"domain": [0,1,2,2.4,2.75,3.2,3.7,4.3,4.8,5.3,5.9,6.5,7.2,8,9,10], "range": ["#1a3ee6","#1e72f0","#1eaef3","#1cd2f8","#22f6ff","#1ef2d6","#1af0a4","#18f078","#14f048","#12f018","#3cee00","#80ee00","#cef000","#fff000","#ffa000","#ff3410"], "interpolate": "rgb"}},
"stroke": {"field": "v", "type": "quantitative", "legend": null, "scale": {"domain": [0,1,2,2.4,2.75,3.2,3.7,4.3,4.8,5.3,5.9,6.5,7.2,8,9,10], "range": ["#1a3ee6","#1e72f0","#1eaef3","#1cd2f8","#22f6ff","#1ef2d6","#1af0a4","#18f078","#14f048","#12f018","#3cee00","#80ee00","#cef000","#fff000","#ffa000","#ff3410"], "interpolate": "rgb"}}
}
},
{
"data": {"values": [{"lt": 0, "lat": 0}]},
"mark": {"type": "point", "opacity": 0},
"encoding": {
"x": {"field": "lt", "type": "quantitative", "axis": {"orient": "top", "values": [0,2,4,6,8,10,12,14,16,18,20,22,24], "labels": false, "title": null, "tickSize": -6, "tickWidth": 1.5, "tickColor": "#222", "grid": false, "domainColor": "#333", "domainWidth": 1.5, "zindex": 1}},
"y": {"field": "lat", "type": "quantitative", "axis": {"orient": "right", "values": [-80,-70,-60,-50,-40,-30,-20,-10,0,10,20,30,40,50,60,70,80], "labels": false, "title": null, "tickSize": -6, "tickWidth": 1.5, "tickColor": "#222", "grid": false, "domainColor": "#333", "domainWidth": 1.5, "zindex": 1}}
}
}
],
"resolve": {"axis": {"x": "independent", "y": "independent"}}
},
{
"width": 20, "height": 417,
"data": {"values": [{"lo": 0, "hi": 10}]},
"mark": {"type": "rect", "stroke": "#222", "strokeWidth": 1, "color": {"gradient": "linear", "x1": 0, "y1": 1, "x2": 0, "y2": 0, "stops": [{"offset": 0, "color": "#1a3ee6"}, {"offset": 0.1, "color": "#1e72f0"}, {"offset": 0.2, "color": "#1eaef3"}, {"offset": 0.24, "color": "#1cd2f8"}, {"offset": 0.275, "color": "#22f6ff"}, {"offset": 0.32, "color": "#1ef2d6"}, {"offset": 0.37, "color": "#1af0a4"}, {"offset": 0.43, "color": "#18f078"}, {"offset": 0.48, "color": "#14f048"}, {"offset": 0.53, "color": "#12f018"}, {"offset": 0.59, "color": "#3cee00"}, {"offset": 0.65, "color": "#80ee00"}, {"offset": 0.72, "color": "#cef000"}, {"offset": 0.8, "color": "#fff000"}, {"offset": 0.9, "color": "#ffa000"}, {"offset": 1, "color": "#ff3410"}]}},
"encoding": {
"y": {"field": "lo", "type": "quantitative", "scale": {"domain": [0, 10], "nice": false, "zero": false},
"axis": {"orient": "right", "values": [0,1,2,3,4,5,6,7,8,9,10], "labelExpr": "datum.value == 0 ? '0' : (datum.value == 10 ? '1·10⁻¹⁹' : (datum.value % 2 == 0 ? datum.value + '·10⁻²⁰' : ''))", "labelFontSize": 18, "labelFontWeight": "normal", "labelPadding": 4, "labelOverlap": false, "labelFlush": false, "tickSize": 8, "tickWidth": 1.5, "tickColor": "#111", "grid": true, "gridColor": "#111", "gridWidth": 1.5, "gridOpacity": 1, "domain": false, "title": null, "zindex": 1}},
"y2": {"field": "hi"}
}
}
],
"spacing": 20,
"bounds": "flush"
}
